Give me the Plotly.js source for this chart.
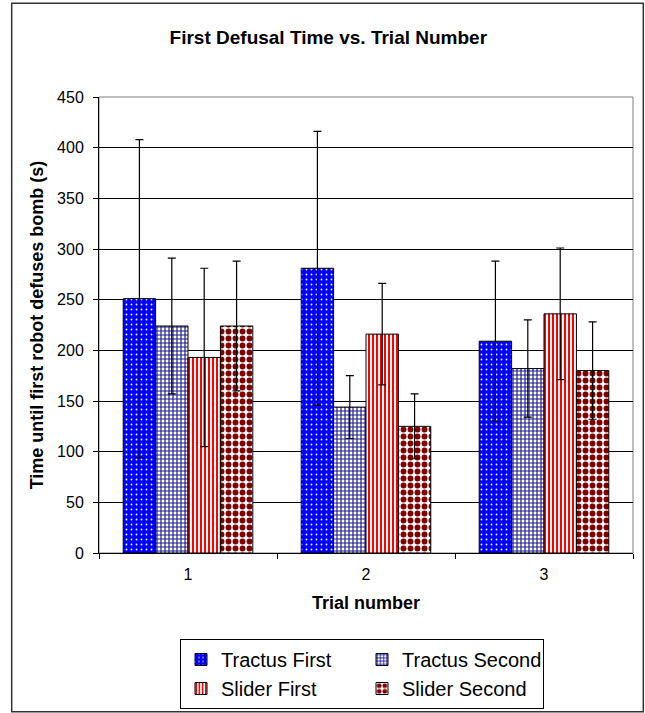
<!DOCTYPE html>
<html>
<head>
<meta charset="utf-8">
<script src="https://cdn.plot.ly/plotly-3.0.1.min.js"></script>
<style>
  html, body { margin: 0; padding: 0; background: #fff; }
  #chart { width: 645px; height: 713px; }
</style>
</head>
<body>
<div id="chart"></div>
<script>
// ---- data ----
var trials = ['1', '2', '3'];
var seriesNames = ['Tractus First', 'Tractus Second', 'Slider First', 'Slider Second'];
var tractusFirst = [251, 281, 209];
var tractusFirstErr = [157, 135, 79];
var tractusSecond = [224, 144, 182];
var tractusSecondErr = [67, 31, 48];
var sliderFirst = [193, 216, 236];
var sliderFirstErr = [88, 50, 65];
var sliderSecond = [224, 125, 180];
var sliderSecondErr = [64, 32, 48];
var yTicks = [0, 50, 100, 150, 200, 250, 300, 350, 400, 450];

var FONT = 'Liberation Sans, Arial, sans-serif';

function errBar(arr) {
  return { type: 'data', array: arr, visible: true, color: '#000', thickness: 1.2, width: 4 };
}
function barTrace(name, y, err, pattern) {
  return {
    type: 'bar', name: name, x: trials, y: y,
    error_y: errBar(err),
    marker: { color: pattern.bgcolor, line: { color: '#000', width: 1 }, pattern: pattern },
    hoverinfo: 'skip'
  };
}

var data = [
  barTrace(seriesNames[0], tractusFirst, tractusFirstErr,
    { shape: '.', fgcolor: '#ffffff', bgcolor: '#0000ff', size: 5, solidity: 0.1 }),
  barTrace(seriesNames[1], tractusSecond, tractusSecondErr,
    { shape: '+', fgcolor: '#1a1a8c', bgcolor: '#ffffff', size: 4, solidity: 0.5 }),
  barTrace(seriesNames[2], sliderFirst, sliderFirstErr,
    { shape: '|', fgcolor: '#ff0000', bgcolor: '#ffffff', size: 4, solidity: 0.5 }),
  barTrace(seriesNames[3], sliderSecond, sliderSecondErr,
    { shape: '.', fgcolor: '#800000', bgcolor: '#ffffff', size: 7, solidity: 0.55 })
];

var L = 99, R = 12, T = 97, B = 160;
var W = 645, H = 713;
var pw = W - L - R, ph = H - T - B;
function px2x(px) { return (px - L) / pw; }
function px2y(py) { return (H - B - py) / ph; }

var layout = {
  width: W, height: H,
  margin: { l: L, r: R, t: T, b: B, autoexpand: false },
  paper_bgcolor: '#ffffff',
  plot_bgcolor: '#ffffff',
  font: { family: FONT, color: '#000' },
  barmode: 'group',
  bargap: 0.272,
  bargroupgap: 0,
  title: {
    text: 'First Defusal Time vs. Trial Number',
    font: { family: FONT, size: 19, weight: 'bold', color: '#000' },
    xref: 'container', x: 0.509, xanchor: 'center',
    yref: 'container', y: 1 - 37 / H, yanchor: 'middle'
  },
  xaxis: {
    type: 'category',
    tickson: 'boundaries',
    ticks: 'outside', ticklen: 5, tickcolor: '#000', tickwidth: 1,
    showline: true, linecolor: '#000', linewidth: 1,
    showgrid: false,
    tickfont: { family: FONT, size: 16, color: '#000' },
    ticklabelstandoff: 7,
    title: { text: 'Trial number', font: { family: FONT, size: 18, weight: 'bold', color: '#000' }, standoff: 14 },
    fixedrange: true
  },
  yaxis: {
    range: [0, 450],
    tickvals: yTicks,
    ticks: 'outside', ticklen: 5, tickcolor: '#000', tickwidth: 1,
    showline: true, linecolor: '#000', linewidth: 1,
    showgrid: true, gridcolor: '#000', gridwidth: 1,
    zeroline: false,
    tickfont: { family: FONT, size: 16, color: '#000' },
    ticklabelstandoff: 6,
    title: { text: 'Time until first robot defuses bomb (s)', font: { family: FONT, size: 18, weight: 'bold', color: '#000' }, standoff: 8 },
    fixedrange: true
  },
  legend: {
    orientation: 'h',
    x: px2x(180), xanchor: 'left',
    y: px2y(639), yanchor: 'top',
    bgcolor: '#ffffff',
    bordercolor: '#000', borderwidth: 1,
    font: { family: FONT, size: 20, color: '#000' },
    entrywidth: 136, entrywidthmode: 'pixels',
    traceorder: 'normal'
  },
  shapes: [
    // plot area border (gray)
    { type: 'rect', xref: 'paper', yref: 'paper', x0: 0, x1: 1, y0: 0, y1: 1,
      line: { color: '#808080', width: 1 }, layer: 'below' },
    // chart area border
    { type: 'rect', xref: 'paper', yref: 'paper',
      x0: px2x(11.7), x1: px2x(643.3), y0: px2y(711.7), y1: px2y(3.3),
      line: { color: '#333333', width: 1.5 } }
  ],
  showlegend: true
};

Plotly.newPlot('chart', data, layout, { displayModeBar: false, staticPlot: true });
</script>
</body>
</html>
